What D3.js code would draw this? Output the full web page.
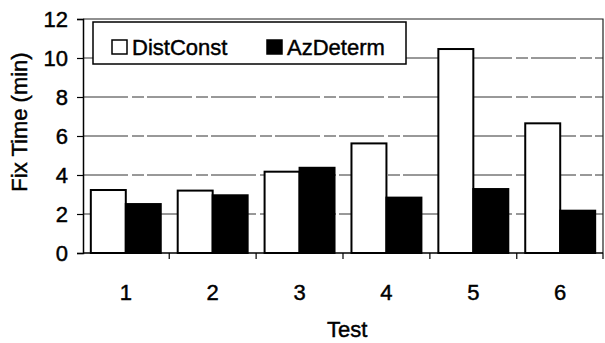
<!DOCTYPE html>
<html>
<head>
<meta charset="utf-8">
<script src="https://cdn.jsdelivr.net/npm/d3@7"></script>
<style>
  body { margin: 0; background: #fff; }
  text { font-family: "Liberation Sans", Arial, sans-serif; fill: #000; stroke: #000; stroke-width: 0.45px; }
</style>
</head>
<body>
<div id="chart"></div>
<script>
// chart values
const tests = ["1", "2", "3", "4", "5", "6"];
const seriesNames = ["DistConst", "AzDeterm"];
const distConst = [3.23, 3.2, 4.17, 5.62, 10.46, 6.65];
const azDeterm = [2.51, 2.96, 4.37, 2.84, 3.28, 2.17];
const yTicks = [0, 2, 4, 6, 8, 10, 12];
const seriesFill = ["#fff", "#000"];

const width = 605, height = 343;
const margin = { top: 19, right: 2, bottom: 90, left: 83 };
const plotW = width - margin.left - margin.right;
const plotH = height - margin.top - margin.bottom;
const fontSize = 22;

const svg = d3.select("#chart").append("svg")
    .attr("width", width)
    .attr("height", height);

const g = svg.append("g")
    .attr("transform", `translate(${margin.left},${margin.top})`);

// scales
const x = d3.scaleBand()
    .domain(tests)
    .range([0, plotW])
    .paddingInner(0.195)
    .paddingOuter(0.09);

const xInner = d3.scaleBand()
    .domain(seriesNames)
    .range([0, x.bandwidth()]);

const y = d3.scaleLinear()
    .domain([0, 12])
    .range([plotH, 0]);

// gridlines
g.append("g")
    .selectAll("line")
    .data(yTicks.filter(d => d > 0 && d < 12))
    .enter()
        .append("line")
        .attr("x1", 0)
        .attr("x2", plotW)
        .attr("y1", d => y(d))
        .attr("y2", d => y(d))
        .attr("stroke", "#333")
        .attr("stroke-width", 1)
        .attr("stroke-dasharray", "45,4,12,3");

// frame top and right
g.append("path")
    .attr("d", `M0,${y(12)}H${plotW}V${y(0)}`)
    .attr("fill", "none")
    .attr("stroke", "#222")
    .attr("stroke-width", 1.2);

// bars
const rows = tests.map((t, i) => ({ test: t, values: [distConst[i], azDeterm[i]] }));

const groups = g.selectAll(".grp")
    .data(rows)
    .enter()
        .append("g")
        .attr("transform", d => `translate(${x(d.test)},0)`);

groups.selectAll("rect")
    .data(d => d.values.map((v, j) => ({ name: seriesNames[j], value: v, j: j })))
    .enter()
        .append("rect")
        .attr("x", d => xInner(d.name))
        .attr("width", xInner.bandwidth())
        .attr("y", d => y(d.value))
        .attr("height", d => y(0) - y(d.value))
        .attr("fill", d => seriesFill[d.j])
        .attr("stroke", "#000")
        .attr("stroke-width", 2);

// y axis
const yAxis = g.append("g")
    .call(d3.axisLeft(y).tickValues(yTicks).tickSize(6).tickPadding(9).tickFormat(d3.format("d")));
yAxis.select(".domain").attr("stroke", "#000").attr("stroke-width", 1.5);
yAxis.selectAll(".tick line").attr("stroke", "#000").attr("stroke-width", 1.2);
yAxis.selectAll("text")
    .attr("font-size", fontSize)
    .attr("dy", "0.36em")
    .style("font-family", "'Liberation Sans', Arial, sans-serif");

// x axis line and boundary ticks
g.append("line")
    .attr("x1", 0).attr("x2", plotW)
    .attr("y1", y(0)).attr("y2", y(0))
    .attr("stroke", "#000").attr("stroke-width", 1.5);

const half = x.step() * x.paddingInner() / 2;
const bounds = tests.slice(1).map(t => x(t) - half).concat([plotW]);
g.append("g")
    .selectAll("line")
    .data(bounds)
    .enter()
        .append("line")
        .attr("x1", d => d).attr("x2", d => d)
        .attr("y1", y(0)).attr("y2", y(0) + 6)
        .attr("stroke", "#000").attr("stroke-width", 1.2);

g.append("g")
    .selectAll("text")
    .data(tests)
    .enter()
        .append("text")
        .attr("x", d => x(d) + x.bandwidth() / 2)
        .attr("y", y(0) + 47)
        .attr("text-anchor", "middle")
        .attr("font-size", fontSize)
        .text(d => d);

// axis titles
svg.append("text")
    .attr("x", margin.left + x("4") - half / 2)
    .attr("y", 337)
    .attr("text-anchor", "middle")
    .attr("font-size", fontSize)
    .text("Test");

svg.append("text")
    .attr("transform", "translate(27,122) rotate(-90)")
    .attr("text-anchor", "middle")
    .attr("font-size", fontSize)
    .text("Fix Time (min)");

// legend
const legend = svg.append("g");
legend.append("rect")
    .attr("x", 93).attr("y", 22)
    .attr("width", 313).attr("height", 42)
    .attr("fill", "#fff")
    .attr("stroke", "#000")
    .attr("stroke-width", 1.5);

const legendX = [112, 267];
seriesNames.forEach((name, i) => {
    legend.append("rect")
        .attr("x", legendX[i]).attr("y", 40)
        .attr("width", 15).attr("height", 14)
        .attr("fill", seriesFill[i])
        .attr("stroke", "#000")
        .attr("stroke-width", 1.5);
    legend.append("text")
        .attr("x", legendX[i] + 20)
        .attr("y", 55)
        .attr("font-size", fontSize)
        .text(name);
});
</script>
</body>
</html>
